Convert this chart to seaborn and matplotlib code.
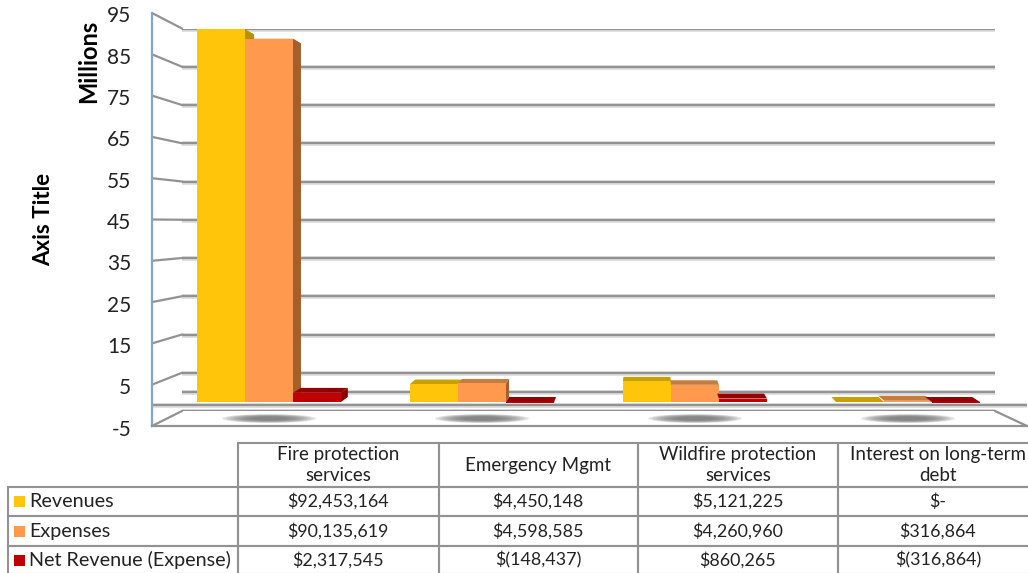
import numpy as np
import pandas as pd
import seaborn as sns
import matplotlib
matplotlib.use('Agg')
import matplotlib.pyplot as plt
import matplotlib.patheffects as pe
from matplotlib.patches import ConnectionPatch, Ellipse, Polygon, Rectangle
from matplotlib.transforms import IdentityTransform, ScaledTranslation

categories = ['Fire protection\nservices', 'Emergency Mgmt',
              'Wildfire protection\nservices', 'Interest on long-term\ndebt']
series = ['Revenues', 'Expenses', 'Net Revenue (Expense)']
revenues = [92453164, 4450148, 5121225, 0]
expenses = [90135619, 4598585, 4260960, 316864]
net_revenue = [2317545, -148437, 860265, -316864]

revenues_text = ['$92,453,164', '$4,450,148', '$5,121,225', '$-']
expenses_text = ['$90,135,619', '$4,598,585', '$4,260,960', '$316,864']
net_text = ['$2,317,545', '$(148,437)', '$860,265', '$(316,864)']

y_ticks = [-5, 5, 15, 25, 35, 45, 55, 65, 75, 85, 95]

front_colors = ['#FFC50A', '#FF994D', '#C00000']
top_colors = ['#C9A000', '#C47C40', '#960000']
side_colors = ['#B89000', '#A4602C', '#8C0000']
grid_color = '#929292'
text_color = '#222222'

W, H = 1028, 573


def px_axes(left, top, right, bottom, **kw):
    return fig.add_axes([left / W, 1 - bottom / H, (right - left) / W, (bottom - top) / H], **kw)


sns.set_theme(style='white')
plt.rcParams['font.family'] = ['Lato', 'DejaVu Sans']
plt.rcParams['axes.unicode_minus'] = False

fig = plt.figure(figsize=(W / 100, H / 100), dpi=100)
shadow = [pe.withStroke(linewidth=3.4, foreground='#dcdcdc')]

# back wall of the 3D box
back_ax = px_axes(182, 28.5, 995, 411, zorder=1)
back_ax.patch.set_visible(False)
back_ax.set_xlim(0, 1)
back_ax.set_ylim(-5, 95)
back_ax.set_yticks(y_ticks + [0])
back_ax.tick_params(left=False, bottom=False, labelleft=False, labelbottom=False)
back_ax.grid(axis='y', color=grid_color, lw=1.6, path_effects=shadow)
back_ax.grid(axis='x', visible=False)
sns.despine(ax=back_ax, left=True, bottom=True)

# front edge, carries the tick labels
front_ax = px_axes(152, 13, 1027, 426, zorder=2)
front_ax.patch.set_visible(False)
front_ax.set_xlim(0, 1)
front_ax.set_ylim(-5, 95)
front_ax.set_yticks(y_ticks)
front_ax.set_xticks([])
front_ax.tick_params(axis='y', left=False, pad=9, labelsize=15, labelcolor=text_color)
label_shift = ScaledTranslation(0, -1.5 / 100, fig.dpi_scale_trans)
for label in front_ax.get_yticklabels():
    label.set_transform(label.get_transform() + label_shift)
front_ax.axhline(0, color=grid_color, lw=1.6, path_effects=shadow)
sns.despine(ax=front_ax)
front_ax.spines['left'].set_color('#7fa6d6')
front_ax.spines['left'].set_linewidth(1.6)
front_ax.spines['bottom'].set_color(grid_color)
front_ax.spines['bottom'].set_linewidth(1.6)
front_ax.set_ylabel('Axis Title', fontsize=16, fontweight='bold', color='black')
front_ax.yaxis.set_label_coords(-0.112, 0.50)
front_ax.text(-0.073, 0.884, 'Millions', rotation=90, fontsize=17, fontweight='bold',
              color='black', ha='center', va='center', transform=front_ax.transAxes)

# diagonals from the front edge to the back wall
diagonals = [(0, t) for t in y_ticks] + [(1, -5)]
for xa, t in diagonals:
    fig.add_artist(ConnectionPatch((xa, t), (xa, t),
                                   coordsA=front_ax.get_yaxis_transform(),
                                   coordsB=back_ax.get_yaxis_transform(),
                                   color=grid_color, lw=1.6, zorder=2))

# bars
bar_ax = px_axes(162.5, 13, 1014.5, 427, zorder=3)
bar_ax.patch.set_visible(False)

df = pd.DataFrame({
    'category': categories * 3,
    'series': np.repeat(series, 4),
    'amount': np.array(revenues + expenses + net_revenue) / 1e6,
})
sns.barplot(data=df, x='category', y='amount', hue='series', hue_order=series,
            palette=front_colors, saturation=1, width=0.676, gap=0, legend=False,
            errorbar=None, linewidth=0, ax=bar_ax)
bar_ax.set_xlim(-0.5, 3.5)
bar_ax.set_ylim(-(427 - 402) / 4.03, (402 - 13) / 4.03)
bar_ax.axis('off')

# soft shadows on the floor
for i in range(len(categories)):
    for s in np.linspace(1, 0.4, 8):
        bar_ax.add_patch(Ellipse((i, -4.1), 0.44 * s, 2.2 * s, color='#707070', alpha=0.2,
                                 lw=0, clip_on=False, zorder=0))

# fake depth, worked out from where each bar ended up on screen
vanish_x, vanish_y = 640, H - 215
depth_x, depth_y = 0.023, 0.0268


def to_back(p):
    return (p[0] + depth_x * (vanish_x - p[0]), p[1] + depth_y * (vanish_y - p[1]))


for n, cont in enumerate(bar_ax.containers):
    base = 10 + 2 * n
    for bar in cont:
        bar.set_zorder(base + 1)
        x0, x1 = bar.get_x(), bar.get_x() + bar.get_width()
        h = bar.get_height()
        bottom, top = min(0, h), max(0, h)
        tl, tr = bar_ax.transData.transform([(x0, top), (x1, top)])
        br = bar_ax.transData.transform((x1, bottom))
        bar_ax.add_patch(Polygon([tl, tr, to_back(tr), to_back(tl)], closed=True, fc=top_colors[n],
                                 lw=0, transform=IdentityTransform(), clip_on=False, zorder=base))
        if to_back(tr)[0] > tr[0]:
            bar_ax.add_patch(Polygon([tr, br, to_back(br), to_back(tr)], closed=True, fc=side_colors[n],
                                     lw=0, transform=IdentityTransform(), clip_on=False, zorder=base))

# data table, y counted from the bottom of the picture so the rows stay in order
table_ax = px_axes(0, 0, W, H, zorder=4)
table_ax.patch.set_visible(False)
table_ax.set_xlim(0, W)
table_ax.set_ylim(0, H)
table_ax.axis('off')

rows = [[''] + categories,
        [series[0]] + revenues_text,
        [series[1]] + expenses_text,
        [series[2]] + net_text]
col_edges = [8, 238, 438.5, 638, 838, 1038]
row_edges = [443, 487, 516, 546, 574]

tbl = table_ax.table(cellText=rows, cellLoc='center', edges='closed',
                     bbox=[col_edges[0], H - row_edges[-1], col_edges[-1] - col_edges[0],
                           row_edges[-1] - row_edges[0]],
                     transform=table_ax.transData)
tbl.auto_set_font_size(False)
for (r, c), cell in tbl.get_celld().items():
    cell.set_width(col_edges[c + 1] - col_edges[c])
    cell.set_height(row_edges[r + 1] - row_edges[r])
    cell.set_edgecolor(grid_color)
    cell.set_linewidth(1.5)
    cell.set_facecolor('none')
    cell.get_text().set_fontsize(13.5 if r == 0 else 12.9)
    cell.get_text().set_color(text_color)
    cell.get_text().set_linespacing(1.35)
    if c == 0:
        cell.get_text().set_fontsize(14.2)
        cell.set_text_props(ha='left')
        cell.PAD = 0.092
        if r == 0:
            cell.visible_edges = ''

for r, color in enumerate(front_colors):
    mid = H - (row_edges[r + 1] + row_edges[r + 2]) / 2
    table_ax.add_patch(Rectangle((14, mid - 5.5), 11, 11, fc=color, lw=0))

fig.savefig('out.png', dpi=100)
